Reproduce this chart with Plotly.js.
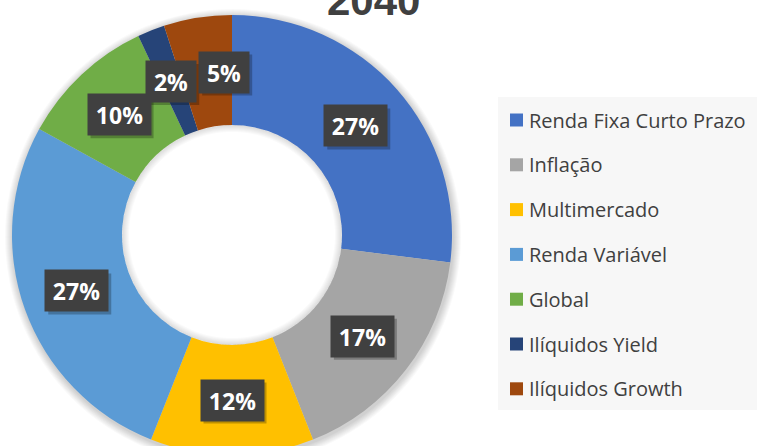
<!DOCTYPE html>
<html>
<head>
<meta charset="utf-8">
<script src="https://cdn.plot.ly/plotly-3.0.1.min.js"></script>
<style>
html,body{margin:0;padding:0;overflow:hidden;background:#fff;}
#chart{width:757px;height:460px;}
</style>
</head>
<body>
<div id="chart"></div>
<script>
// ---- data ----
const chartTitle = '2040';
const labels = ['Renda Fixa Curto Prazo', 'Inflação', 'Multimercado', 'Renda Variável', 'Global', 'Ilíquidos Yield', 'Ilíquidos Growth'];
const values = [27, 17, 12, 27, 10, 2, 5];
const colors = ['#4472C4', '#A5A5A5', '#FFC000', '#5B9BD5', '#70AD47', '#264478', '#9E480E'];

// ---- geometry (pixels) ----
const W = 757, H = 460;
const CX = 232, CY = 235, R = 220, HOLE = 0.5;
const px = x => x / W;
const py = y => (H - y) / H;

const total = values.reduce((a, b) => a + b, 0);
const pctText = values.map(v => Math.round(v / total * 100) + '%');

const shapes = [];
const annotations = [];

// outer soft shadow of the donut
for (let i = 8; i >= 1; i--) {
  const r = R + i;
  shapes.push({type: 'circle', xref: 'paper', yref: 'paper', layer: 'below',
    x0: px(CX + 1 - r), x1: px(CX + 1 + r), y0: py(CY + 2 + r), y1: py(CY + 2 - r),
    fillcolor: 'rgba(0,0,0,0.022)', line: {width: 0}});
}
const rh = R * HOLE;
// white disc so the shadow does not show through the hole
shapes.push({type: 'circle', xref: 'paper', yref: 'paper', layer: 'below',
  x0: px(CX - rh - 1), x1: px(CX + rh + 1), y0: py(CY + rh + 1), y1: py(CY - rh - 1),
  fillcolor: '#ffffff', line: {width: 0}});
// inner shadow inside the hole (annuli)
function ringPath(r1, r2) {
  let d = '';
  const N = 90;
  for (let k = 0; k <= N; k++) {
    const a = k / N * 2 * Math.PI;
    d += (k === 0 ? 'M' : 'L') + px(CX + r1 * Math.cos(a)).toFixed(5) + ',' + py(CY + r1 * Math.sin(a)).toFixed(5);
  }
  for (let k = N; k >= 0; k--) {
    const a = k / N * 2 * Math.PI;
    d += 'L' + px(CX + r2 * Math.cos(a)).toFixed(5) + ',' + py(CY + r2 * Math.sin(a)).toFixed(5);
  }
  return d + 'Z';
}
for (let i = 1; i <= 7; i++) {
  shapes.push({type: 'path', xref: 'paper', yref: 'paper', layer: 'above',
    path: ringPath(rh, rh - i), fillcolor: 'rgba(0,0,0,0.018)', line: {width: 0}});
}

// data labels in dark boxes
let cum = 0;
const labelR = R * (1 + HOLE) / 2;
values.forEach((v, i) => {
  const mid = (cum + v / 2) / total * 2 * Math.PI;
  cum += v;
  const nudge = (i === values.length - 1) ? 18 : 0; // keep clear of the neighbouring label
  const x = CX + labelR * Math.sin(mid) + nudge;
  const y = CY - labelR * Math.cos(mid);
  const w = 24 + 13 * pctText[i].length, h = 41;
  // box shadow
  shapes.push({type: 'rect', xref: 'paper', yref: 'paper', layer: 'above',
    x0: px(x - w / 2 + 3), x1: px(x + w / 2 + 3), y0: py(y + h / 2 + 3), y1: py(y - h / 2 + 3),
    fillcolor: 'rgba(0,0,0,0.25)', line: {width: 0}});
  annotations.push({xref: 'paper', yref: 'paper', x: px(x), y: py(y), xanchor: 'center', yanchor: 'middle',
    showarrow: false, width: w, height: h, borderpad: 0, align: 'center', valign: 'middle',
    text: '<b>' + pctText[i] + '</b>', bgcolor: '#404040',
    font: {family: 'Open Sans', size: 23, color: '#ffffff'}});
});

// title
annotations.push({xref: 'paper', yref: 'paper', x: px(373), y: py(1), xanchor: 'center', yanchor: 'middle',
  showarrow: false, text: '<b>' + chartTitle + '</b>',
  font: {family: 'Liberation Sans, Arial', size: 42, color: '#404040'}});

// manual legend
shapes.push({type: 'rect', xref: 'paper', yref: 'paper', layer: 'below',
  x0: px(498), x1: px(760), y0: py(410), y1: py(97), fillcolor: '#f7f7f7', line: {width: 0}});
labels.forEach((lab, i) => {
  const yc = 120 + i * 44.8;
  shapes.push({type: 'rect', xref: 'paper', yref: 'paper', layer: 'above',
    x0: px(510), x1: px(523), y0: py(yc + 6.5), y1: py(yc - 6.5), fillcolor: colors[i], line: {width: 0}});
  annotations.push({xref: 'paper', yref: 'paper', x: px(527), y: py(yc), xanchor: 'left', yanchor: 'middle',
    showarrow: false, text: lab, font: {family: 'Open Sans', size: 20, color: '#404040'}});
});

const trace = {
  type: 'pie', labels: labels, values: values, sort: false, direction: 'clockwise', rotation: 0,
  hole: HOLE, marker: {colors: colors, line: {width: 0}}, textinfo: 'none', hoverinfo: 'skip',
  showlegend: false,
  domain: {x: [px(CX - R), px(CX + R)], y: [py(CY + R), py(CY - R)]}
};

Plotly.newPlot('chart', [trace], {
  width: W, height: H, margin: {l: 0, r: 0, t: 0, b: 0},
  paper_bgcolor: '#ffffff', showlegend: false,
  shapes: shapes, annotations: annotations
}, {staticPlot: true});
</script>
</body>
</html>
